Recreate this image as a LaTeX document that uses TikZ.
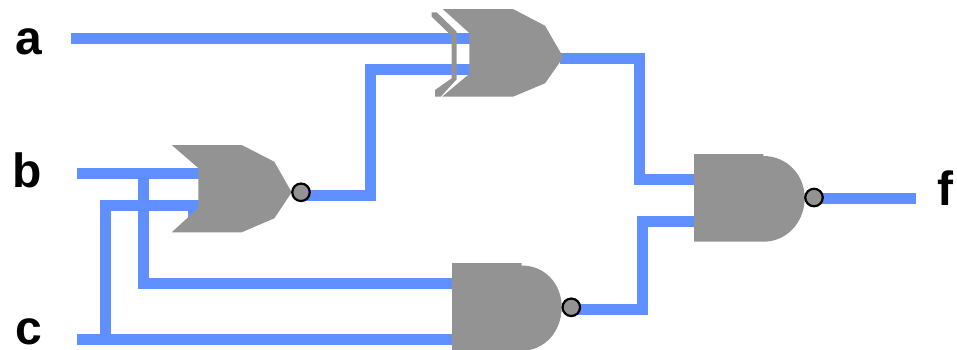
\documentclass[tikz,border=0pt]{standalone}
\usepackage{fontspec}
\setmainfont{Liberation Sans}
\definecolor{wire}{HTML}{6090FF}
\definecolor{gate}{HTML}{939393}
\tikzset{
  wireline/.style={draw=wire,line width=11pt,line cap=butt,line join=miter},
  gatebody/.style={fill=gate,draw=none},
  bubble/.style={circle,fill=gate,draw=black,line width=2.2pt,minimum size=17.5pt,inner sep=0pt},
  lab/.style={font=\bfseries\fontsize{48}{48}\selectfont,inner sep=0pt,anchor=base}
}
\begin{document}
\begin{tikzpicture}[x=1pt,y=-1pt]
\useasboundingbox (0,0) rectangle (957,349);
% named coordinates
\coordinate (aS) at (71,38);
\coordinate (aE) at (470,38);
\coordinate (xi) at (470,69.5);
\coordinate (xj) at (370.5,69.5);
\coordinate (oj) at (370.5,195.5);
\coordinate (xo) at (560,58.5);
\coordinate (xk) at (639.5,58.5);
\coordinate (ak) at (639.5,179);
\coordinate (a2i) at (696,179);
\coordinate (a2j) at (696,221.5);
\coordinate (lk) at (642,221.5);
\coordinate (lj) at (642,309.5);
\coordinate (bS) at (77,173.5);
\coordinate (bE) at (199,173.5);
\coordinate (cS) at (77,339);
\coordinate (cE) at (454,339);
\coordinate (oi2) at (199,205.5);
\coordinate (cT) at (105.5,205.5);
\coordinate (cB) at (105.5,339);
\coordinate (bT) at (143.7,173.5);
\coordinate (bB) at (143.7,283);
\coordinate (a1i) at (454,283);
\coordinate (fE) at (916,198);
% bubbles placed first so wires can refer to them
\coordinate (bo) at (301,192.3);
\coordinate (ba1) at (571.3,307.3);
\coordinate (ba2) at (814,197.5);
% wires
\draw[wireline] (aS) -- (aE);
\draw[wireline] (xi) -- ([xshift=-5.5pt]xj);
\draw[wireline] ([yshift=-5.5pt]xj) -- ([yshift=5.5pt]oj);
\draw[wireline] (bo |- oj) -- ([xshift=5.5pt]oj);
\draw[wireline] (xo) -- (xk) -- (ak);
\draw[wireline] ([xshift=-5.5pt]ak) -- (a2i);
\draw[wireline] (a2j) -- ([xshift=-5.5pt]lk);
\draw[wireline] ([yshift=-5.5pt]lk) -- ([yshift=5.5pt]lj);
\draw[wireline] (ba1 |- lj) -- ([xshift=6pt]lj);
\draw[wireline] (bS) -- (bE);
\draw[wireline] (cS) -- (cE);
\draw[wireline] ([yshift=-5.5pt]cT) -- ([yshift=5pt]cB);
\draw[wireline] ([xshift=-5.5pt]cT) -- (oi2);
\draw[wireline] (bT) -- ([yshift=5.5pt]bB);
\draw[wireline] ([xshift=-5.5pt]bB) -- (a1i);
\draw[wireline] (ba2 |- fE) -- (fE);
\fill[wire] (188.3,209) rectangle (199,217);
% XOR
\path[gatebody] (442.7,9) -- (513,9) -- (545,25.7) -- (563.3,57.3) -- (545,83.3) -- (513,96.7) -- (442,96.7) -- (469.3,74) -- (469.3,33) -- cycle;
\path[gatebody] (431.7,12.3) -- (436.7,12.3) -- (456.7,31.7) -- (456.7,79.3) -- (440.7,96.7) -- (435,96.7) -- (435,90) -- (451.7,78.3) -- (451.7,36) -- (431.7,16.7) -- cycle;
% NOR
\path[gatebody] (171.7,145) -- (241.7,145) -- (274.3,161.7) -- (291.7,192.3) -- (274.3,218.3) -- (241.7,232.3) -- (171.7,232.3) -- (198.3,208) -- (198.3,168) -- cycle;
% NAND lower
\path[gatebody] (452,263) -- (521.7,263) -- (521.7,265.5) .. controls (545,265.5) and (561.7,284) .. (561.7,307) .. controls (561.7,331) and (545,350.7) .. (521.7,350.7) -- (452,350.7) -- cycle;
% NAND upper
\path[gatebody] (694,154) -- (763.3,154) -- (763.3,156) .. controls (787,156) and (804.7,175) .. (804.7,198) .. controls (804.7,222) and (787,241.7) .. (763.3,241.7) -- (694,241.7) -- cycle;
% bubbles on top
\node[bubble] (nbo) at (bo) {};
\node[bubble] (nba1) at (ba1) {};
\node[bubble] (nba2) at (ba2) {};
% labels
\node[lab] (la) at (28.5,54.5) {a};
\node[lab] (lb) at (27.5,187) {b};
\node[lab] (lc) at (28.5,344.5) {c};
\node[lab] (lf) at (945.5,205) {f};
\end{tikzpicture}
\end{document}
